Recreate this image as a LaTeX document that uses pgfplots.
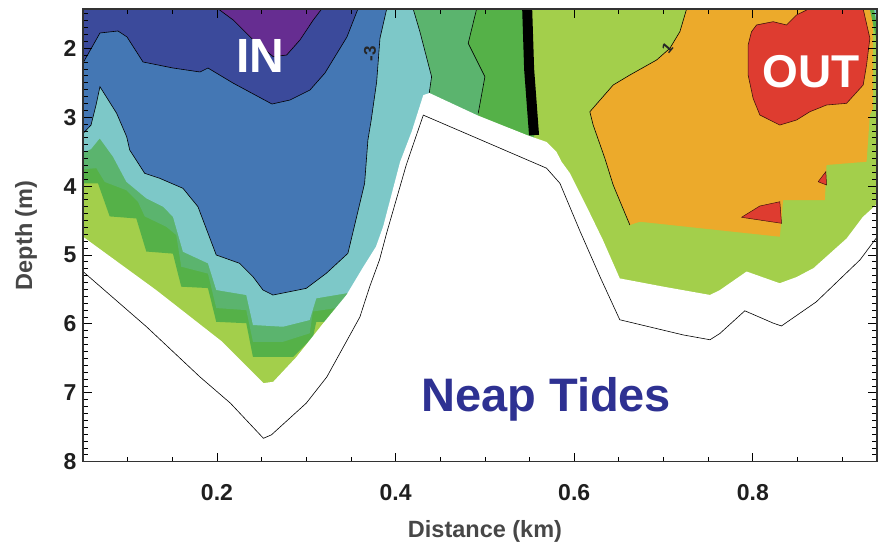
\documentclass[border=0pt]{standalone}
\usepackage{fontspec}
\setmainfont{Liberation Sans}
\usepackage{pgfplots}
\pgfplotsset{compat=1.18}
\usetikzlibrary{calc}
\definecolor{cpurple}{HTML}{662D91}
\definecolor{cdblue}{HTML}{3B4A9B}
\definecolor{cmblue}{HTML}{4477B4}
\definecolor{cteal}{HTML}{7DC8C8}
\definecolor{cmgreen}{HTML}{5BB46E}
\definecolor{cgreen}{HTML}{55B148}
\definecolor{clime}{HTML}{A3CF4B}
\definecolor{corange}{HTML}{ECAA2B}
\definecolor{cred}{HTML}{DE3C30}
\definecolor{cneap}{HTML}{2E3192}
\begin{document}
\begin{tikzpicture}
\begin{axis}[
  scale only axis, width=794pt, height=452.7pt,
  xmin=0.05, xmax=0.939, ymin=1.43, ymax=8, y dir=reverse,
  axis on top,
  xtick={0.2,0.4,0.6,0.8}, ytick={2,3,...,8},
  minor xtick={0.1,0.15,...,0.95}, minor ytick={1.5,1.6,...,8},
  tick align=inside, major tick length=9pt, minor tick length=5pt,
  every tick/.style={black, line width=0.8pt},
  axis line style={black!80, line width=1.2pt},
  /pgf/number format/assume math mode=true,
  tick label style={font=\bfseries\fontsize{23}{25}\selectfont, text=black!88},
  xticklabel style={yshift=-19pt},
  yticklabel style={xshift=-3pt},
  xlabel={Distance (km)}, ylabel={Depth (m)},
  label style={font=\bfseries\fontsize{23.5}{25}\selectfont, text=black!72},
  xlabel style={at={(axis description cs:0.5063,-0.1531)}, anchor=center},
  ylabel style={at={(axis description cs:-0.0718,0.5)}, anchor=center},
]
% lime background (whole field)
\addplot[fill=clime, draw=none] coordinates {(0.04,1.3) (0.95,1.3) (0.95,8.1) (0.04,8.1)};
% green
\addplot[fill=cgreen, draw=none] coordinates {(0.04,1.3) (0.547,1.3) (0.547,1.43) (0.5495,2.3) (0.555,3.26) (0.556,3.5) (0.556,8.1) (0.33,8.1) (0.33,5.95) (0.3198,5.97) (0.3112,5.97) (0.3075,6.19) (0.2854,6.48) (0.2403,6.48) (0.2328,5.99) (0.1992,5.97) (0.1899,5.48) (0.1600,5.46) (0.1507,4.98) (0.1209,4.95) (0.1097,4.47) (0.0799,4.44) (0.0668,3.96) (0.04,3.96)};
% medium green
\addplot[fill=cmgreen, draw=none] coordinates {(0.04,1.3) (0.4907,1.3) (0.4907,1.43) (0.4813,1.928) (0.5000,2.413) (0.4925,2.944) (0.4925,3.3) (0.350,8.1) (0.350,5.62) (0.3335,5.77) (0.3075,5.82) (0.3038,6.137) (0.2739,6.26) (0.2403,6.26) (0.2328,5.80) (0.1992,5.77) (0.1899,5.27) (0.1600,5.17) (0.1544,4.71) (0.1432,4.59) (0.1191,4.44) (0.1116,4.23) (0.0985,4.06) (0.0743,3.94) (0.0649,3.74) (0.04,3.767)};
% teal
\addplot[fill=cteal, draw=none] coordinates {(0.04,1.3) (0.4197,1.3) (0.4197,1.43) (0.4272,1.759) (0.4403,2.413) (0.4376,2.654) (0.4376,3.0) (0.37,8.1) (0.36,5.5) (0.3447,5.556) (0.3112,5.629) (0.3038,5.944) (0.2739,6.041) (0.2403,6.016) (0.2328,5.581) (0.1992,5.508) (0.1899,5.121) (0.1619,4.953) (0.1507,4.445) (0.1396,4.299) (0.1209,4.178) (0.0985,3.937) (0.0836,3.574) (0.0687,3.307) (0.059,3.462) (0.04,3.578)};
% medium blue
\addplot[fill=cmblue, draw=black, line width=0.6pt] coordinates {(0.04,1.3) (0.39,1.3) (0.39,1.43) (0.3825,1.855) (0.3788,2.485) (0.3727,3.041) (0.369,3.331) (0.3653,3.960) (0.3466,4.976) (0.3224,5.266) (0.30,5.484) (0.2627,5.581) (0.2515,5.508) (0.2403,5.315) (0.2254,5.121) (0.1992,5.0) (0.1787,4.299) (0.1619,4.032) (0.1359,3.887) (0.1191,3.815) (0.1023,3.476) (0.0989,3.283) (0.0877,2.944) (0.069,2.558) (0.0646,2.823) (0.059,3.114) (0.04,3.375) (0.04,1.3)};
% dark blue
\addplot[fill=cdblue, draw=black, line width=0.6pt] coordinates {(0.04,1.3) (0.3578,1.3) (0.3578,1.43) (0.3455,1.836) (0.3209,2.359) (0.3041,2.606) (0.2817,2.751) (0.2616,2.809) (0.2179,2.504) (0.1899,2.286) (0.1810,2.344) (0.1507,2.286) (0.1172,2.199) (0.0993,1.836) (0.0892,1.749) (0.069,1.778) (0.05,2.214) (0.04,2.214) (0.04,1.3)};
% purple
\addplot[fill=cpurple, draw=black, line width=0.6pt] coordinates {(0.2015,1.3) (0.2015,1.43) (0.2182,1.590) (0.2406,1.880) (0.2630,2.122) (0.2780,2.098) (0.2929,1.880) (0.3078,1.590) (0.3172,1.43) (0.3172,1.3) (0.2015,1.3)};
% orange
\addplot[fill=corange, draw=none] coordinates {(0.7258,1.3) (0.7258,1.43) (0.7183,1.759) (0.7071,2.0) (0.6922,2.170) (0.6623,2.388) (0.6436,2.533) (0.6175,2.921) (0.6212,3.114) (0.6343,3.597) (0.6436,3.984) (0.6623,4.565) (0.6735,4.517) (0.8302,4.735) (0.8339,4.202) (0.8806,4.202) (0.8825,3.694) (0.9273,3.646) (0.931,2.968) (0.9347,2.871) (0.9343,1.3)};
% right-top slivers
\addplot[fill=cgreen, draw=none] coordinates {(0.9287,1.3) (0.95,1.3) (0.95,1.95) (0.939,1.909)};
\addplot[fill=cteal, draw=none] coordinates {(0.934,1.3) (0.95,1.3) (0.95,1.70) (0.939,1.68)};
% red
\addplot[fill=cred, draw=black!70!cred, line width=0.6pt] coordinates {(0.8041,1.662) (0.8227,1.614) (0.8377,1.662) (0.8489,1.517) (0.8601,1.445) (0.8601,1.3) (0.9235,1.3) (0.9235,1.43) (0.931,1.855) (0.9273,2.243) (0.9235,2.533) (0.9049,2.799) (0.8825,2.823) (0.8638,2.921) (0.8489,3.041) (0.8302,3.114) (0.8078,2.968) (0.8003,2.726) (0.7947,2.388) (0.7947,1.952) (0.7985,1.759) (0.8041,1.662)};
\addplot[fill=cred, draw=black!70!cred, line width=0.5pt] coordinates {(0.7873,4.453) (0.8078,4.289) (0.8302,4.227) (0.8321,4.540) (0.7873,4.453)};
\addplot[fill=cred, draw=black!70!cred, line width=0.5pt] coordinates {(0.8731,3.937) (0.8817,3.791) (0.8825,3.984) (0.8731,3.937)};
% contour lines
\addplot[black, line width=0.6pt] coordinates {(0.4197,1.3) (0.4197,1.43) (0.4272,1.759) (0.4403,2.413) (0.4376,2.654)};
\addplot[black, line width=0.6pt] coordinates {(0.4907,1.3) (0.4907,1.43) (0.4813,1.928) (0.5000,2.413) (0.4925,2.944)};
\addplot[black, line width=0.6pt] coordinates {(0.7258,1.3) (0.7258,1.43) (0.7183,1.759) (0.7071,2.0) (0.6922,2.170) (0.6623,2.388) (0.6436,2.533) (0.6175,2.921) (0.6212,3.114) (0.6343,3.597) (0.6436,3.984) (0.6623,4.565)};
% white mask below the data
\addplot[fill=white, draw=none] coordinates {(0.04,4.65) (0.05,4.735) (0.132,5.51) (0.205,6.25) (0.252,6.86) (0.263,6.84) (0.289,6.48) (0.319,5.99) (0.345,5.58) (0.363,5.19) (0.378,4.88) (0.386,4.59) (0.405,3.65) (0.418,3.21) (0.431,2.68) (0.438,2.65) (0.491,2.97) (0.547,3.26) (0.569,3.36) (0.580,3.50) (0.586,3.65) (0.595,3.81) (0.614,4.30) (0.632,4.78) (0.651,5.34) (0.700,5.46) (0.752,5.58) (0.763,5.51) (0.793,5.24) (0.830,5.41) (0.849,5.32) (0.868,5.19) (0.905,4.76) (0.923,4.45) (0.95,4.13) (0.95,8.1) (0.04,8.1)};
% bathymetry
\addplot[black, line width=0.6pt] coordinates {(0.05,5.24) (0.121,6.04) (0.181,6.77) (0.215,7.15) (0.252,7.66) (0.261,7.61) (0.300,7.15) (0.323,6.77) (0.360,5.90) (0.371,5.46) (0.382,5.07) (0.390,4.68) (0.412,3.69) (0.431,2.97) (0.569,3.74) (0.584,3.96) (0.606,4.64) (0.629,5.32) (0.651,5.94) (0.722,6.16) (0.752,6.23) (0.763,6.14) (0.791,5.81) (0.823,5.99) (0.832,6.03) (0.871,5.68) (0.920,5.07) (0.939,4.74)};
% zero line
\addplot[black, line width=10pt] coordinates {(0.547,1.3) (0.5495,2.3) (0.555,3.26)};
\node[text=white, font=\bfseries\fontsize{48}{48}\selectfont] at (axis cs:0.2487,2.105) {IN};
\node[text=white, font=\bfseries\fontsize{46}{46}\selectfont] at (axis cs:0.865,2.34) {OUT};
\node[text=cneap, font=\bfseries\fontsize{47}{47}\selectfont, anchor=base west, inner sep=0pt] at (axis cs:0.4284,7.275) {Neap Tides};
\node[text=black!85, font=\bfseries\fontsize{17}{17}\selectfont, rotate=90, inner sep=0pt] at (axis cs:0.3713,2.076) {-3};
\node[text=black!85, font=\bfseries\fontsize{15}{15}\selectfont, rotate=50] at (axis cs:0.7043,1.989) {1};
\end{axis}
\pgfresetboundingbox
\path[use as bounding box] ($(current axis.south west)+(-83pt,-82.3pt)$) rectangle ($(current axis.north east)+(4pt,9pt)$);
\end{tikzpicture}
\end{document}
